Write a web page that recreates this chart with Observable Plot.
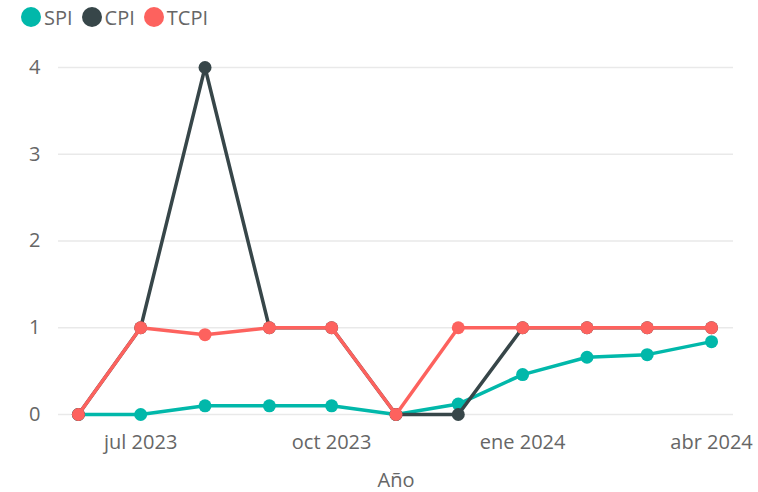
<!DOCTYPE html>
<html>
<head>
<meta charset="utf-8">
<script src="https://cdn.jsdelivr.net/npm/d3@7"></script>
<script src="https://cdn.jsdelivr.net/npm/@observablehq/plot@0.6"></script>
<style>
  body { margin: 0; background: #fff; font-family: "Open Sans", sans-serif; }
  #legend { height: 34px; display: flex; align-items: center; padding-left: 21px; color: #666; font-size: 20px; }
  .item { display: flex; align-items: center; margin-right: 9px; }
  .sw { width: 20px; height: 20px; border-radius: 50%; margin-right: 3px; }
</style>
</head>
<body>
<div id="legend"></div>
<div id="chart"></div>
<script>
const months = ["2023-06-01","2023-07-01","2023-08-01","2023-09-01","2023-10-01","2023-11-01","2023-12-01","2024-01-01","2024-02-01","2024-03-01","2024-04-01"];
const spi  = [0, 0, 0.1, 0.1, 0.1, 0, 0.12, 0.46, 0.66, 0.69, 0.84];
const cpi  = [0, 1, 4, 1, 1, 0, 0, 1, 1, 1, 1];
const tcpi = [0, 1, 0.92, 1, 1, 0, 1, 1, 1, 1, 1];
const seriesNames = ["SPI", "CPI", "TCPI"];
const seriesColors = ["#01B8AA", "#374649", "#FD625E"];
const yTicks = [0, 1, 2, 3, 4];
const xTickDates = ["2023-07-01", "2023-10-01", "2024-01-01", "2024-04-01"];
const xTickLabels = ["jul 2023", "oct 2023", "ene 2024", "abr 2024"];
const xDomain = ["2023-05-22T10:00:00Z", "2024-04-11T14:00:00Z"];

const values = [spi, cpi, tcpi];
const parse = s => new Date(s);
const tickDates = xTickDates.map(d => parse(d + "T00:00:00Z"));
const labelOf = new Map(tickDates.map((d, i) => [+d, xTickLabels[i]]));

const legend = document.getElementById("legend");
seriesNames.forEach((n, i) => {
  const it = document.createElement("div");
  it.className = "item";
  it.innerHTML = `<span class="sw" style="background:${seriesColors[i]}"></span><span>${n}</span>`;
  legend.appendChild(it);
});

const marks = [
  Plot.ruleY(yTicks, {stroke: "#e9e9e9", strokeWidth: 1.5}),
  Plot.axisY({ticks: yTicks, tickSize: 0, tickPadding: 18, tickFormat: d => String(d), label: null, fontSize: 20, color: "#666"}),
  Plot.axisX({ticks: tickDates, tickSize: 0, tickPadding: 20, tickFormat: d => labelOf.get(+d), label: "Año", labelAnchor: "center", labelOffset: 72, fontSize: 20, color: "#666", labelArrow: "none"})
];
seriesNames.forEach((n, i) => {
  const data = months.map((m, j) => ({date: parse(m + "T00:00:00Z"), v: values[i][j]}));
  marks.push(Plot.lineY(data, {x: "date", y: "v", stroke: seriesColors[i], strokeWidth: 3.5}));
  marks.push(Plot.dot(data, {x: "date", y: "v", fill: seriesColors[i], r: 6.5}));
});

const chart = Plot.plot({
  width: 758,
  height: 458,
  marginLeft: 58,
  marginRight: 25,
  marginTop: 33,
  marginBottom: 78,
  style: {fontFamily: "Open Sans, sans-serif", fontSize: "20px", color: "#666", background: "#fff"},
  x: {type: "utc", domain: xDomain.map(parse)},
  y: {domain: [0, 4]},
  marks
});
document.getElementById("chart").appendChild(chart);
</script>
</body>
</html>
